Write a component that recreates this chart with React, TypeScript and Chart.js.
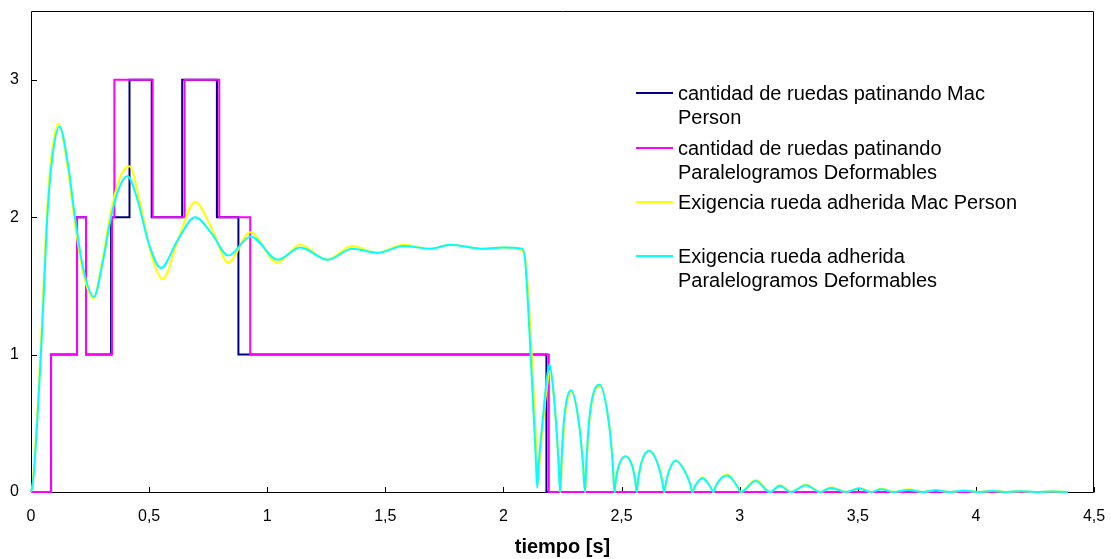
import React, { useEffect, useRef } from "react";
import { Chart, registerables } from "chart.js";

Chart.register(...registerables);

// ---- Data ----
const tiempoRuedasMac = [0, 0.085, 0.195, 0.233, 0.339, 0.417, 0.511, 0.64, 0.787, 0.878, 2.182, 4.39];
const ruedasMac = [0, 1, 2, 1, 2, 3, 2, 3, 2, 1, 0, 0];

const tiempoRuedasParal = [0, 0.085, 0.195, 0.233, 0.343, 0.353, 0.515, 0.65, 0.797, 0.928, 2.192, 4.39];
const ruedasParal = [0, 1, 2, 1, 2, 3, 2, 3, 2, 1, 0, 0];

const tiempoExigMac = [
  0, 0.007, 0.014, 0.028, 0.042, 0.056, 0.069, 0.088, 0.117, 0.155, 0.184, 0.22, 0.264, 0.3, 0.337, 0.375,
  0.417, 0.46, 0.51, 0.558, 0.625, 0.695, 0.765, 0.835, 0.928, 1.043, 1.14, 1.254, 1.36, 1.466, 1.577, 1.69,
  1.775, 1.915, 2.0, 2.078, 2.095, 2.12, 2.14, 2.146, 2.153, 2.17, 2.185, 2.197, 2.212, 2.226, 2.234, 2.241,
  2.247, 2.257, 2.288, 2.319, 2.337, 2.346, 2.352, 2.366, 2.408, 2.446, 2.463, 2.471, 2.476, 2.489, 2.518,
  2.546, 2.559, 2.565, 2.571, 2.586, 2.617, 2.651, 2.673, 2.681, 2.689, 2.703, 2.73, 2.766, 2.791, 2.801,
  2.811, 2.843, 2.876, 2.89, 2.901, 2.949, 2.991, 3.005, 3.068, 3.129, 3.171, 3.217, 3.281, 3.341, 3.387,
  3.451, 3.507, 3.556, 3.601, 3.651, 3.717, 3.775, 3.831, 3.891, 3.951, 4.011, 4.071, 4.131, 4.191, 4.251,
  4.321, 4.39,
];
const exigMac = [
  0, 0.06, 0.22, 0.62, 1.08, 1.62, 2.08, 2.47, 2.68, 2.36, 1.98, 1.6, 1.41, 1.67, 2.03, 2.28,
  2.37, 2.12, 1.72, 1.55, 1.85, 2.11, 1.92, 1.67, 1.89, 1.67, 1.8, 1.69, 1.79, 1.74, 1.8, 1.77,
  1.8, 1.77, 1.78, 1.76, 1.66, 1.0, 0.3, 0.05, 0.22, 0.54, 0.78, 0.88, 0.72, 0.42, 0.2, 0.0,
  0.2, 0.49, 0.73, 0.51, 0.21, 0.0, 0.21, 0.55, 0.77, 0.51, 0.21, 0.0, 0.08, 0.19, 0.26,
  0.19, 0.08, 0.0, 0.09, 0.22, 0.3, 0.22, 0.08, 0.0, 0.07, 0.16, 0.23, 0.16, 0.06, 0.0,
  0.04, 0.11, 0.04, 0.0, 0.05, 0.13, 0.04, 0.0, 0.09, 0.0, 0.05, 0.0, 0.055, 0.0, 0.035,
  0.0, 0.03, 0.0, 0.025, 0.0, 0.02, 0.0, 0.015, 0.0, 0.012, 0.0, 0.01, 0.0, 0.008, 0.0,
  0.005, 0.0,
];

const tiempoExigParal = [
  0, 0.007, 0.014, 0.028, 0.042, 0.056, 0.069, 0.088, 0.12, 0.158, 0.186, 0.222, 0.267, 0.3, 0.339, 0.37,
  0.408, 0.45, 0.5, 0.55, 0.62, 0.695, 0.765, 0.835, 0.93, 1.045, 1.14, 1.256, 1.36, 1.468, 1.577, 1.69,
  1.775, 1.915, 2.0, 2.08, 2.092, 2.115, 2.136, 2.143, 2.15, 2.168, 2.183, 2.195, 2.21, 2.225, 2.233, 2.24,
  2.245, 2.255, 2.287, 2.318, 2.336, 2.345, 2.351, 2.365, 2.407, 2.445, 2.462, 2.47, 2.475, 2.488, 2.517,
  2.545, 2.558, 2.564, 2.57, 2.585, 2.616, 2.65, 2.672, 2.68, 2.688, 2.702, 2.729, 2.765, 2.79, 2.8,
  2.81, 2.842, 2.875, 2.889, 2.9, 2.948, 2.99, 3.004, 3.068, 3.128, 3.17, 3.216, 3.28, 3.34, 3.386,
  3.45, 3.506, 3.555, 3.6, 3.65, 3.716, 3.774, 3.83, 3.89, 3.95, 4.01, 4.07, 4.13, 4.19, 4.25,
  4.32, 4.39,
];
const exigParal = [
  0, 0.05, 0.18, 0.56, 1.0, 1.52, 2.0, 2.4, 2.66, 2.37, 2.0, 1.62, 1.42, 1.64, 2.0, 2.2,
  2.3, 2.13, 1.8, 1.63, 1.83, 2.0, 1.88, 1.72, 1.86, 1.69, 1.78, 1.69, 1.77, 1.74, 1.79, 1.77,
  1.8, 1.77, 1.78, 1.77, 1.68, 1.0, 0.28, 0.03, 0.22, 0.56, 0.82, 0.93, 0.76, 0.45, 0.22, 0.0,
  0.2, 0.5, 0.74, 0.52, 0.22, 0.0, 0.22, 0.56, 0.78, 0.52, 0.22, 0.0, 0.08, 0.19, 0.26,
  0.19, 0.08, 0.0, 0.09, 0.22, 0.3, 0.22, 0.08, 0.0, 0.07, 0.16, 0.23, 0.16, 0.06, 0.0,
  0.04, 0.1, 0.04, 0.0, 0.05, 0.12, 0.04, 0.0, 0.08, 0.0, 0.045, 0.0, 0.05, 0.0, 0.03,
  0.0, 0.025, 0.0, 0.02, 0.0, 0.015, 0.0, 0.012, 0.0, 0.01, 0.0, 0.008, 0.0, 0.006, 0.0,
  0.004, 0.0,
];

const legendLabels: string[][] = [
  ["cantidad de ruedas patinando Mac", "Person"],
  ["cantidad de ruedas patinando", "Paralelogramos Deformables"],
  ["Exigencia rueda adherida Mac Person"],
  ["Exigencia rueda adherida", "Paralelogramos Deformables"],
];
const seriesColors = ["#000080", "#FF00FF", "#FFFF00", "#00FFFF"];
const xTickValues = [0, 0.5, 1, 1.5, 2, 2.5, 3, 3.5, 4, 4.5];
const yTickValues = [0, 1, 2, 3];
const axisTitle = "tiempo [s]";

const FONT = '"Liberation Sans", Arial, sans-serif';

const toPoints = (xs: number[], ys: number[]) => xs.map((x, i) => ({ x, y: ys[i] }));
const fmt = (v: number | string) => String(v).replace(".", ",");
const zeroPadding = (s: any) => {
  s.paddingTop = 0;
  s.paddingBottom = 0;
  s.paddingLeft = 0;
  s.paddingRight = 0;
};

const framePlugin = {
  id: "frameAndLegend",
  beforeDatasetsDraw(chart: any) {
    const { ctx, chartArea, scales } = chart;
    const { left, top, right, bottom } = chartArea;
    ctx.save();
    ctx.strokeStyle = "#000";
    ctx.lineWidth = 1;
    ctx.beginPath();
    ctx.rect(left + 0.5, top + 0.5, right - left - 1, bottom - top);
    ctx.stroke();
    ctx.beginPath();
    xTickValues.forEach((v) => {
      const px = Math.round(scales.x.getPixelForValue(v)) + 0.5;
      ctx.moveTo(px, bottom + 0.5);
      ctx.lineTo(px, bottom - 5);
    });
    yTickValues.forEach((v) => {
      const py = Math.round(scales.y.getPixelForValue(v)) + 0.5;
      ctx.moveTo(left + 0.5, py);
      ctx.lineTo(left + 6, py);
    });
    ctx.stroke();
    ctx.restore();
  },
  afterDatasetsDraw(chart: any) {
    const { ctx } = chart;
    const entryY = [93, 148, 202, 256];
    ctx.save();
    ctx.font = `20px ${FONT}`;
    ctx.textBaseline = "middle";
    ctx.textAlign = "left";
    legendLabels.forEach((lines, i) => {
      const y = entryY[i];
      ctx.strokeStyle = seriesColors[i];
      ctx.lineWidth = 2;
      ctx.beginPath();
      ctx.moveTo(636, y);
      ctx.lineTo(673, y);
      ctx.stroke();
      ctx.fillStyle = "#000";
      lines.forEach((line, j) => ctx.fillText(line, 678, y + 1 + j * 24));
    });
    ctx.restore();
  },
};

export default function App() {
  const canvasRef = useRef<HTMLCanvasElement | null>(null);

  useEffect(() => {
    const canvas = canvasRef.current;
    if (!canvas) return;
    const chart = new Chart(canvas, {
      type: "line",
      data: {
        datasets: [
          {
            label: "Exigencia rueda adherida Paralelogramos Deformables",
            data: toPoints(tiempoExigParal, exigParal),
            borderColor: seriesColors[3],
            borderWidth: 2,
            pointRadius: 0,
            cubicInterpolationMode: "monotone",
            order: 0,
            clip: 4,
          },
          {
            label: "Exigencia rueda adherida Mac Person",
            data: toPoints(tiempoExigMac, exigMac),
            borderColor: seriesColors[2],
            borderWidth: 2,
            pointRadius: 0,
            cubicInterpolationMode: "monotone",
            order: 1,
            clip: 4,
          },
          {
            label: "cantidad de ruedas patinando Paralelogramos Deformables",
            data: toPoints(tiempoRuedasParal, ruedasParal),
            borderColor: seriesColors[1],
            borderWidth: 2,
            pointRadius: 0,
            stepped: true,
            order: 2,
            clip: 4,
          },
          {
            label: "cantidad de ruedas patinando Mac Person",
            data: toPoints(tiempoRuedasMac, ruedasMac),
            borderColor: seriesColors[0],
            borderWidth: 2,
            pointRadius: 0,
            stepped: true,
            order: 3,
            clip: 4,
          },
        ],
      },
      options: {
        responsive: false,
        animation: false,
        layout: { padding: { top: 11, right: 17, left: 0, bottom: 0 } },
        plugins: { legend: { display: false }, tooltip: { enabled: false } },
        scales: {
          x: {
            type: "linear",
            min: 0,
            max: 4.5,
            afterBuildTicks: (s: any) => {
              s.ticks = xTickValues.map((v) => ({ value: v }));
            },
            ticks: {
              callback: (v: any) => fmt(v),
              font: { family: FONT, size: 16 },
              color: "#000",
              padding: 15,
              maxRotation: 0,
              autoSkip: false,
            },
            grid: { display: false, drawTicks: false },
            border: { display: false },
            title: {
              display: true,
              text: axisTitle,
              font: { family: FONT, size: 20, weight: "bold" },
              color: "#000",
              padding: { top: 0, bottom: 0 },
            },
            afterFit: (s: any) => {
              s.height = 67;
              zeroPadding(s);
            },
          },
          y: {
            type: "linear",
            min: 0,
            max: 3.5,
            afterBuildTicks: (s: any) => {
              s.ticks = yTickValues.map((v) => ({ value: v }));
            },
            ticks: {
              callback: (v: any) => fmt(v),
              font: { family: FONT, size: 16 },
              color: "#000",
              padding: 12,
            },
            grid: { display: false, drawTicks: false },
            border: { display: false },
            afterFit: (s: any) => {
              s.width = 31;
              zeroPadding(s);
            },
          },
        },
      } as any,
      plugins: [framePlugin],
    });
    return () => chart.destroy();
  }, []);

  return (
    <div style={{ position: "fixed", left: 0, top: 0, width: 1111, height: 559, background: "#fff" }}>
      <canvas ref={canvasRef} width={1111} height={559} style={{ display: "block" }} />
    </div>
  );
}
